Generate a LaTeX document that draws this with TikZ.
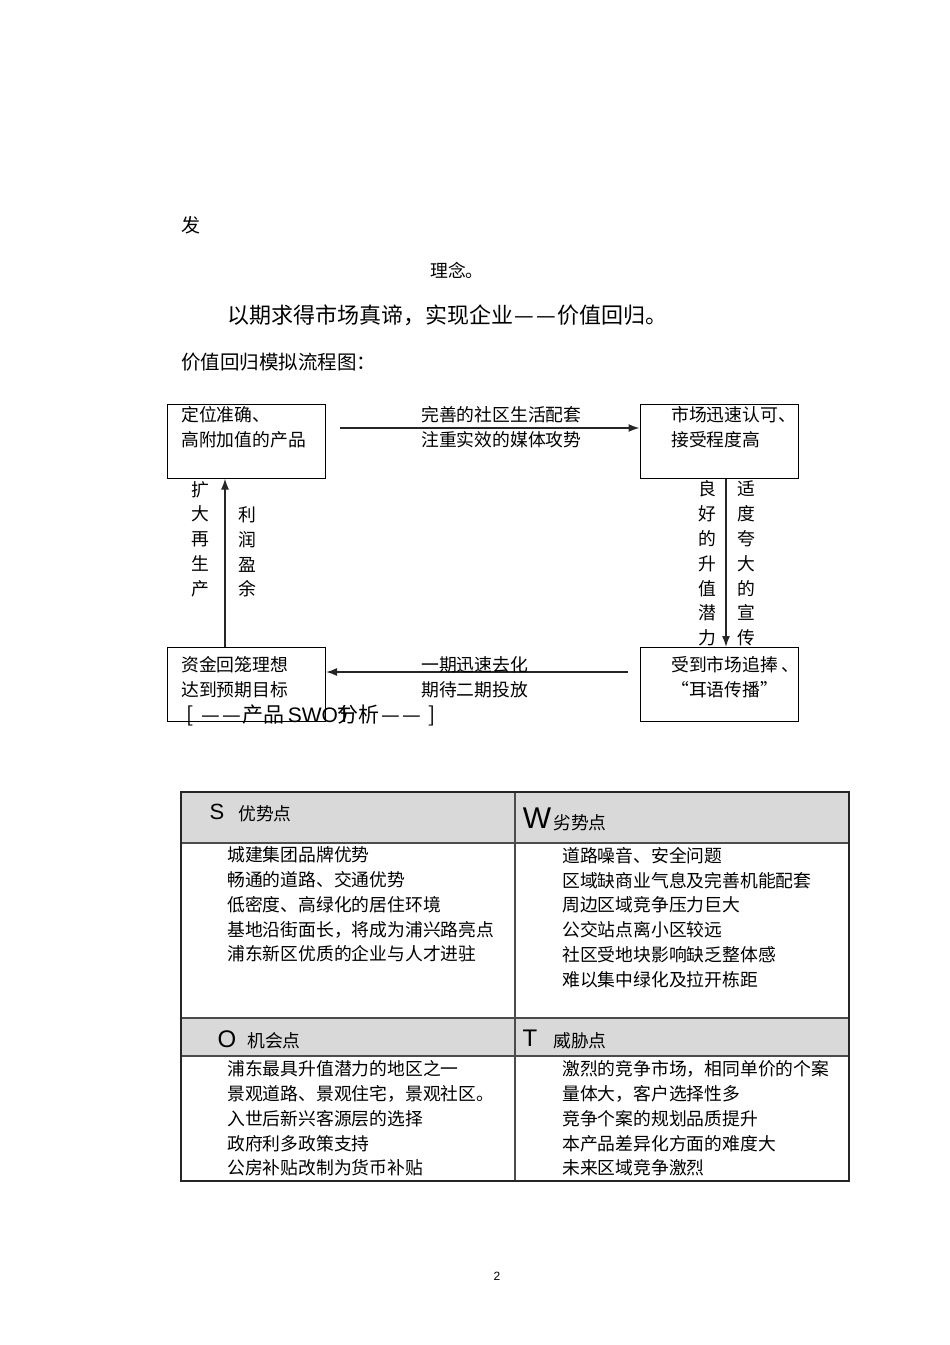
\documentclass[tikz,border=0pt]{standalone}
\usepackage{fontspec}
\setmainfont{Liberation Sans}
\newfontfamily\cjk{Noto Sans CJK SC}
\usepackage{xcolor}
\usetikzlibrary{arrows.meta, positioning}

\newcommand\zhdash{\makebox[1em]{—}}

\begin{document}
\begin{tikzpicture}[x=1pt, y=-1pt,
  box/.style={rectangle, draw, line width=1pt, minimum width=158pt, minimum height=74pt, inner sep=0pt},
  arrow/.style={-{Latex[length=11pt, width=8pt]}, line width=1.6pt, draw=black!85},
  txt/.style={font=\cjk\fontsize{17.8}{24.8}\selectfont, align=left, inner sep=0pt, anchor=west},
  vtxt/.style={font=\cjk\fontsize{17.8}{24.8}\selectfont, align=center, inner sep=0pt},
  head/.style={fill=black!15},
  outer/.style={line width=2pt, draw=black!85},
  grid/.style={line width=1.3pt, draw=black!70},
  letter/.style={inner sep=0pt}
]

\fill[white] (0,0) rectangle (950,1345);

\node[txt, font=\cjk\fontsize{19}{24}\selectfont] (fa) at (181,225) {发};
\node[txt] (linian) at (430,270) {理念。};
\node[txt, font=\cjk\fontsize{22}{26}\selectfont] (yiqi) at (227,315) {以期求得市场真谛，实现企业\zhdash\zhdash 价值回归。};
\node[txt, font=\cjk\fontsize{19.5}{24}\selectfont] (liucheng) at (181,362) {价值回归模拟流程图：};

\node[box] (dingwei) at (246.5,441) {};
\node[box] (shichang) at (719,441) {};
\node[box] (zijin) at (246.5,684.5) {};
\node[box] (shoudao) at (719,684.5) {};

\node[txt] (dingweitext) at (181,427.5) {定位准确、\\高附加值的产品};
\node[txt] (shichangtext) at (671,427.5) {市场迅速认可、\\接受程度高};
\node[txt] (zijintext) at (181,677.5) {资金回笼理想\\达到预期目标};
\node[txt] (shoudaotext) at (671,677.5) {受到市场追捧 、\\“耳语传播”};

\coordinate (topstart) at (340,428);
\coordinate (botstart) at (628,672);

\draw[arrow] (topstart) -- (topstart -| shichang.west);
\draw[arrow] ([xshift=7pt]shichang.south) -- ([xshift=7pt]shoudao.north);
\draw[arrow] (botstart) -- (botstart -| zijin.east);
\draw[arrow] ([xshift=-21.5pt]zijin.north) -- ([xshift=-21.5pt]dingwei.south);

\node[txt] (toplabel) at (421,427.5) {完善的社区生活配套\\注重实效的媒体攻势};
\node[txt] (botlabel) at (421,677.5) {一期迅速去化\\期待二期投放};

\node[vtxt] (kuoda) at (200,539) {扩\\大\\再\\生\\产};
\node[vtxt] (lirun) at (247,552) {利\\润\\盈\\余};
\node[vtxt] (lianghao) at (707,563.5) {良\\好\\的\\升\\值\\潜\\力};
\node[vtxt] (shidu) at (746,563.5) {适\\度\\夸\\大\\的\\宣\\传};

\node[txt, font=\cjk\fontsize{21}{24}\selectfont] (swottitle) at (186,715) {[\hspace{0.35em}\zhdash\zhdash 产品\hspace{0.15em}{\rmfamily SWO\rlap{T}}分析\zhdash\zhdash\hspace{0.3em}]};

\fill[head] (181,792) rectangle (849,843);
\fill[head] (181,1018) rectangle (849,1056);
\draw[grid] (181,843) -- (849,843);
\draw[grid] (181,1018) -- (849,1018);
\draw[grid] (181,1056) -- (849,1056);
\draw[grid] (515,792) -- (515,1181);
\draw[outer] (181,792) rectangle (849,1181);

\node[letter, font=\fontsize{22}{22}\selectfont] (s) at (217,812) {S};
\node[txt] (shead) at (238,814) {优势点};
\node[letter, font=\fontsize{30}{30}\selectfont] (w) at (537,818) {W};
\node[txt] (whead) at (553,823) {劣势点};
\node[letter, font=\fontsize{24}{24}\selectfont] (o) at (227,1039) {O};
\node[txt] (ohead) at (247,1041) {机会点};
\node[letter, font=\fontsize{24}{24}\selectfont] (t) at (530,1038) {T};
\node[txt] (thead) at (553,1041) {威胁点};

\node[txt] (slist) at (227,904.5) {城建集团品牌优势\\畅通的道路、交通优势\\低密度、高绿化的居住环境\\基地沿街面长，将成为浦兴路亮点\\浦东新区优质的企业与人才进驻};
\node[txt] (wlist) at (562,917.5) {道路噪音、安全问题\\区域缺商业气息及完善机能配套\\周边区域竞争压力巨大\\公交站点离小区较远\\社区受地块影响缺乏整体感\\难以集中绿化及拉开栋距};
\node[txt] (olist) at (227,1118.5) {浦东最具升值潜力的地区之一\\景观道路、景观住宅，景观社区。\\入世后新兴客源层的选择\\政府利多政策支持\\公房补贴改制为货币补贴};
\node[txt] (tlist) at (562,1118.5) {激烈的竞争市场，相同单价的个案\\量体大，客户选择性多\\竞争个案的规划品质提升\\本产品差异化方面的难度大\\未来区域竞争激烈};

\node[letter, font=\fontsize{12}{12}\selectfont] (page) at (497,1276) {2};

\end{tikzpicture}
\end{document}
